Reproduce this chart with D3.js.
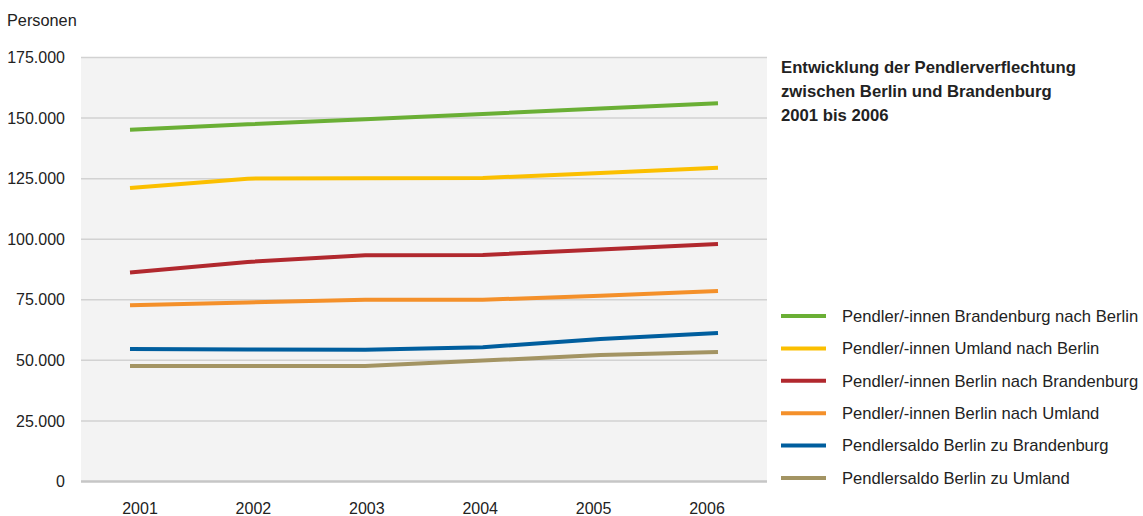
<!DOCTYPE html>
<html>
<head>
<meta charset="utf-8">
<script src="https://cdn.jsdelivr.net/npm/d3@7"></script>
<style>
  body { margin: 0; background: #fff; }
  text { font-family: "Liberation Sans", Arial, sans-serif; fill: #222; }
</style>
</head>
<body>
<svg id="chart" width="1143" height="516"></svg>
<script>
const years = ['2001', '2002', '2003', '2004', '2005', '2006'];
const yTicks = [0, 25000, 50000, 75000, 100000, 125000, 150000, 175000];
const seriesNames = [
  'Pendler/-innen Brandenburg nach Berlin',
  'Pendler/-innen Umland nach Berlin',
  'Pendler/-innen Berlin nach Brandenburg',
  'Pendler/-innen Berlin nach Umland',
  'Pendlersaldo Berlin zu Brandenburg',
  'Pendlersaldo Berlin zu Umland'
];
const bbNachBerlin  = [145200, 147400, 149500, 151700, 153900, 156100];
const umlNachBerlin = [121100, 125000, 125200, 125300, 127300, 129500];
const berNachBB     = [86300, 90600, 93400, 93500, 95800, 98000];
const berNachUml    = [72700, 73900, 75000, 75000, 76700, 78600];
const saldoBB       = [54700, 54500, 54400, 55400, 58800, 61300];
const saldoUml      = [47700, 47700, 47700, 49900, 52200, 53500];
const titleLines = [
  'Entwicklung der Pendlerverflechtung',
  'zwischen Berlin und Brandenburg',
  '2001 bis 2006'
];

const allSeries = [bbNachBerlin, umlNachBerlin, berNachBB, berNachUml, saldoBB, saldoUml];
const colors = ['#6aaf35', '#fbbf00', '#b1282e', '#f4902a', '#005e9e', '#a39463'];

let plot = {left: 81, right: 767, top: 57.5, bottom: 481.5};

let svg = d3.select('#chart');

let sx = d3.scalePoint().domain(years).range([130, 718]);
let sxLabel = d3.scalePoint().domain(years).range([140, 707]);
let sy = d3.scaleLinear().domain([0, 175000]).range([plot.bottom, plot.top]);

// background
svg.append('rect')
  .attr('x', plot.left).attr('y', plot.top)
  .attr('width', plot.right - plot.left)
  .attr('height', plot.bottom - plot.top)
  .attr('fill', '#f3f3f3');

// gridlines
svg.append('g').selectAll('line')
  .data(yTicks)
  .join('line')
    .attr('x1', plot.left).attr('x2', plot.right)
    .attr('y1', d => sy(d)).attr('y2', d => sy(d))
    .attr('stroke', d => d === 0 ? '#c6c6c6' : '#d2d2d2')
    .attr('stroke-width', d => d === 0 ? 2.5 : 1.5);

// y labels
let fmt = d3.formatLocale({decimal: ',', thousands: '.', grouping: [3], currency: ['', '']}).format(',d');
svg.append('g').selectAll('text')
  .data(yTicks)
  .join('text')
    .attr('x', 65)
    .attr('y', d => sy(d))
    .attr('dy', '0.35em')
    .attr('text-anchor', 'end')
    .style('font-size', '16px')
    .text(d => fmt(d));

svg.append('text')
  .attr('x', 7).attr('y', 26)
  .style('font-size', '16.3px')
  .text('Personen');

// x labels
svg.append('g').selectAll('text')
  .data(years)
  .join('text')
    .attr('x', d => sxLabel(d))
    .attr('y', 514)
    .attr('text-anchor', 'middle')
    .style('font-size', '16px')
    .text(d => d);

// lines
let line = d3.line()
  .x((d, i) => sx(years[i]))
  .y(d => sy(d));

svg.append('g').selectAll('path')
  .data(allSeries)
  .join('path')
    .attr('d', d => line(d))
    .attr('fill', 'none')
    .attr('stroke', (d, i) => colors[i])
    .attr('stroke-width', 4);

// title
svg.append('text')
  .style('font-size', '16.7px')
  .style('font-weight', 'bold')
  .selectAll('tspan')
  .data(titleLines)
  .join('tspan')
    .attr('x', 781)
    .attr('y', (d, i) => 73 + i * 24)
    .text(d => d);

// legend
let legend = svg.append('g').selectAll('g')
  .data(seriesNames)
  .join('g')
    .attr('transform', (d, i) => `translate(781,${316 + i * 32.4})`);

legend.append('line')
  .attr('x1', 0).attr('x2', 45)
  .attr('stroke', (d, i) => colors[i])
  .attr('stroke-width', 4);

legend.append('text')
  .attr('x', 61)
  .attr('dy', '0.35em')
  .style('font-size', '16.6px')
  .text(d => d);
</script>
</body>
</html>
